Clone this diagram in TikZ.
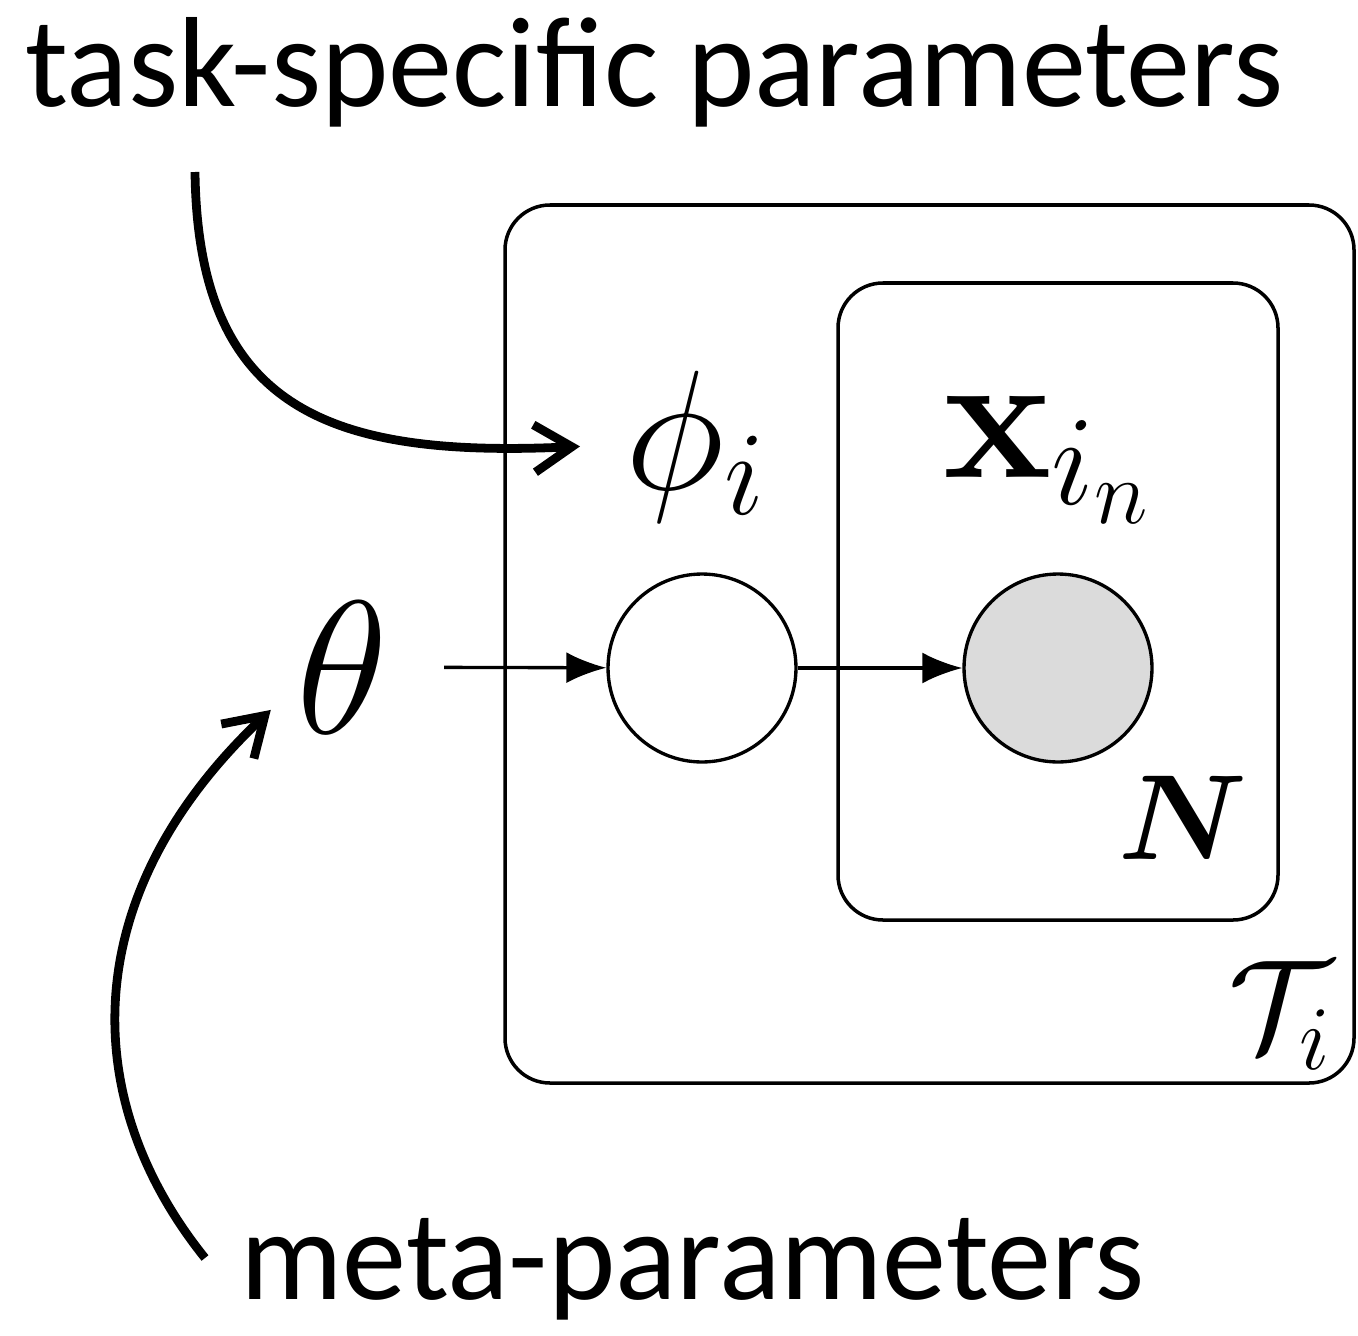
\documentclass[tikz,border=0pt]{standalone}
\usepackage{fix-cm}
\usepackage{amsmath,bm}
\usepackage[no-math]{fontspec}
\setmainfont{Carlito}
\usetikzlibrary{arrows.meta}

\begin{document}
\begin{tikzpicture}[x=0.02cm,y=-0.02cm,
    latent/.style={circle,draw,line width=1.9pt,minimum size=3.76cm,inner sep=0pt},
    obs/.style={latent,fill=gray!28},
    plate/.style={draw,line width=2pt,rounded corners=0.9cm},
    edge/.style={-{Latex[length=0.8cm,width=0.62cm]},line width=1.9pt},
    callout/.style={-{Straight Barb[length=0.75cm,width=0.95cm]},line width=5pt},
    words/.style={font=\fontsize{73}{86}\selectfont,inner sep=0pt,anchor=base west}]
  \useasboundingbox (0,0) rectangle (1358,1335);

  \draw[plate] (505,205) rectangle (1354,1083);
  \draw[plate] (838,283) rectangle (1278,920);

  \node[latent] (phi) at (702,668) {};
  \node[obs] (x) at (1058,668) {};
  \node[anchor=base,inner sep=0.5cm,font=\fontsize{108}{110}\selectfont] (theta) at (342,733) {$\theta$};
  \node[anchor=base west,inner xsep=0.9cm,inner ysep=0pt,font=\fontsize{97}{100}\selectfont] (philab) at (580,489) {$\phi_i$};
  \node[anchor=base west,inner sep=0pt,font=\fontsize{104}{110}\selectfont] (xlab) at (943,477) {$\mathbf{x}_{i_n}$};
  \node[font=\fontsize{69}{80}\selectfont] (N) at (1183,818) {$\bm{N}$};
  \node[anchor=base west,inner sep=0pt,font=\fontsize{74}{80}\selectfont] (Ti) at (1228,1050) {$\mathcal{T}_i$};

  \draw[edge,shorten <=0.62cm] (theta) -- (phi);
  \draw[edge] (phi) -- (x);

  \node[words] (tasktext) at (25,107) {task-specific parameters};
  \node[words] (metatext) at (240,1299) {meta-parameters};
  \coordinate (tstart) at (195,172);
  \coordinate (mstart) at (205,1258);

  \draw[callout] (tstart) .. controls (198,410) and (330,458) .. (philab.west);
  \draw[callout] (mstart) .. controls (78,1100) and (75,895) .. (theta.211);
\end{tikzpicture}
\end{document}
